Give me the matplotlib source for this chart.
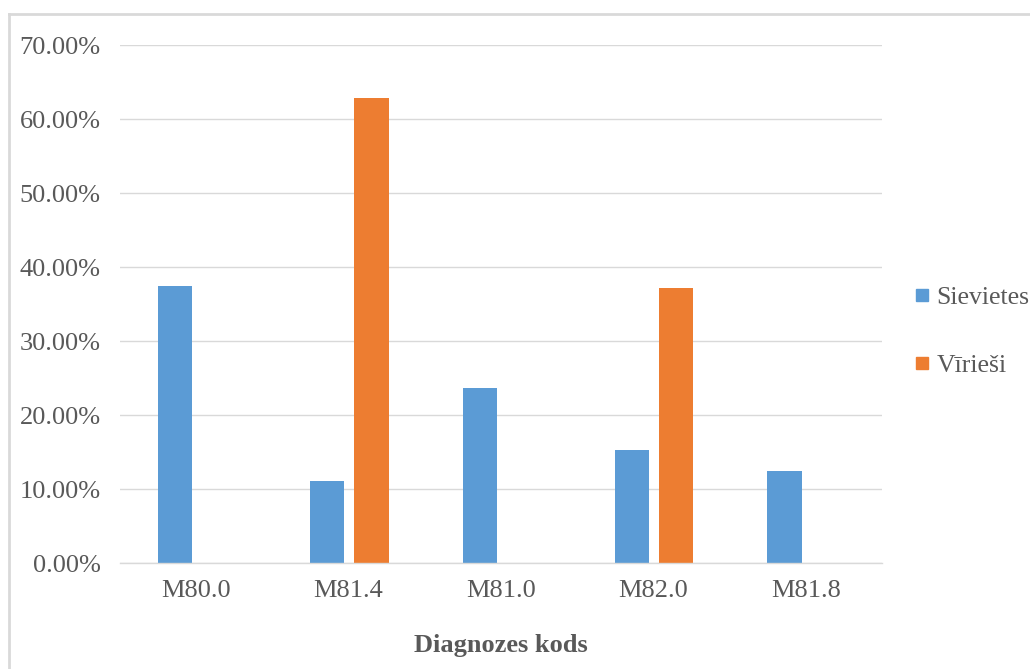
import matplotlib
matplotlib.use("Agg")
import matplotlib.pyplot as plt
import numpy as np
from matplotlib.lines import Line2D

categories = ["M80.0", "M81.4", "M81.0", "M82.0", "M81.8"]
sievietes = [37.4, 11.1, 23.6, 15.3, 12.5]
virieshi = [0.0, 62.9, 0.0, 37.2, 0.0]
yticks = [0, 10, 20, 30, 40, 50, 60, 70]
series_names = ["Sievietes", "Vīrieši"]
colors = ['#5b9bd5', '#ed7d31']

plt.rcParams['font.family'] = ['Liberation Serif', 'DejaVu Serif']
txt = '#595959'

fig = plt.figure(figsize=(10.3, 6.69), dpi=100)
ax = fig.add_axes([0.1165, 0.1584, 0.7398, 0.7743])

x = np.arange(len(categories))
w = 0.224
ax.bar(x - 0.14, sievietes, width=w, color=colors[0], label=series_names[0], zorder=3)
ax.bar(x + 0.15, virieshi, width=w, color=colors[1], label=series_names[1], zorder=3)

ax.set_xlim(-0.5, len(categories) - 0.5)
ax.set_ylim(0, 70)
ax.set_yticks(yticks)
ax.set_yticklabels([f"{v:.2f}%" for v in yticks])
ax.set_xticks(x)
ax.set_xticklabels(categories)
ax.tick_params(axis='both', length=0, labelsize=19, colors=txt)
ax.tick_params(axis='y', pad=14)
ax.tick_params(axis='x', pad=12)
ax.yaxis.grid(True, color='#d9d9d9', linewidth=1.0, zorder=0)
for s in ['top', 'right', 'left']:
    ax.spines[s].set_visible(False)
ax.spines['bottom'].set_color('#d9d9d9')
ax.spines['bottom'].set_linewidth(1.0)
ax.spines['bottom'].set_zorder(4)

ax.set_xlabel("Diagnozes kods", fontsize=19, fontweight='bold', color=txt, labelpad=23)

handles = [Line2D([], [], marker='s', linestyle='none', markersize=8.6,
                  markerfacecolor=c, markeredgecolor=c) for c in colors]
leg = fig.legend(handles, series_names, loc='center left', bbox_to_anchor=(0.879, 0.504),
                 frameon=False, fontsize=18.5, handlelength=0.5,
                 handletextpad=0.3, labelspacing=1.75, borderaxespad=0)
for t in leg.get_texts():
    t.set_color(txt)

# outer border
fig.add_artist(Line2D([9/1030, 9/1030], [0, 1 - 14/669], transform=fig.transFigure,
                      color='#d9d9d9', linewidth=2))
fig.add_artist(Line2D([9/1030, 1], [1 - 14/669, 1 - 14/669], transform=fig.transFigure,
                      color='#d9d9d9', linewidth=2))

fig.savefig("out.png", dpi=100)
